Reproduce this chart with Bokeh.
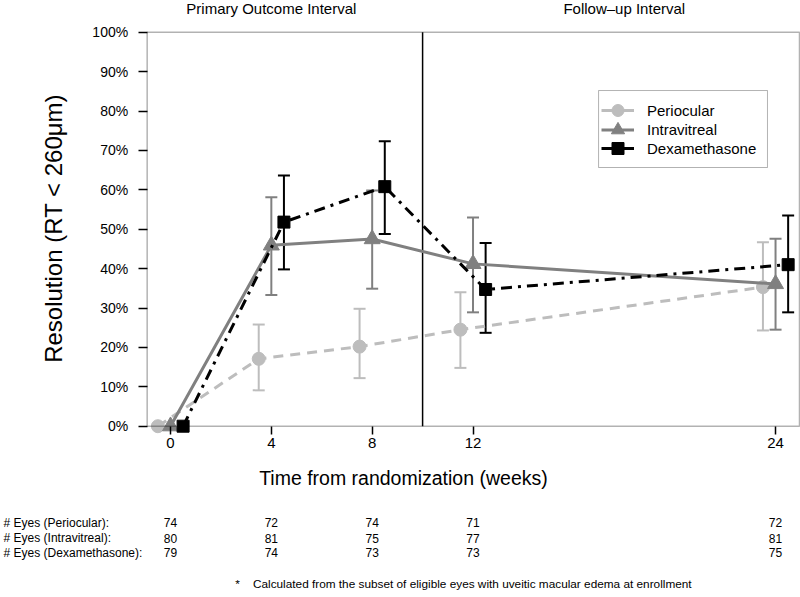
import math
from bokeh.plotting import figure
from bokeh.models import (ColumnDataSource, Whisker, TeeHead, Legend,
                          LegendItem, FixedTicker, Range1d, BoxAnnotation)
from bokeh.transform import dodge
from bokeh.core.properties import value
from bokeh.embed import file_html
from bokeh.resources import INLINE

# ---------------- data ----------------
weeks = [0, 4, 8, 12, 24]
err_weeks = [4, 8, 12, 24]

series_names = ["Periocular", "Intravitreal", "Dexamethasone"]

peri_val = [0.0, 17.1, 20.2, 24.5, 35.3]
peri_low = [9.1, 12.2, 14.8, 24.3]
peri_up = [25.8, 29.8, 34.0, 46.7]

intra_val = [0.0, 45.9, 47.5, 41.2, 36.1]
intra_low = [33.3, 34.9, 28.9, 24.5]
intra_up = [58.1, 59.8, 53.0, 47.6]

dex_val = [0.0, 51.8, 60.8, 34.7, 41.0]
dex_low = [39.8, 48.8, 23.7, 28.9]
dex_up = [63.6, 72.3, 46.5, 53.5]

yticks = [0, 10, 20, 30, 40, 50, 60, 70, 80, 90, 100]
ytick_labels = ["0%", "10%", "20%", "30%", "40%", "50%", "60%", "70%", "80%", "90%", "100%"]

eyes_labels = ["# Eyes (Periocular):", "# Eyes (Intravitreal):", "# Eyes (Dexamethasone):"]
eyes_peri = [74, 72, 74, 71, 72]
eyes_intra = [80, 81, 75, 77, 81]
eyes_dex = [79, 74, 73, 73, 75]

interval_labels = ["Primary Outcome Interval", "Follow\u2013up Interval"]
interval_centers = [4, 18]
interval_split = 10

y_label = "Resolution (RT < 260\u03bcm)"
x_label = "Time from randomization (weeks)"
footnote = "*\u00a0\u00a0\u00a0\u00a0Calculated from the subset of eligible eyes with uveitic macular edema at enrollment"

# ---------------- layout / styles ----------------
FONT = "Liberation Sans"
colors = ["#bdbdbd", "#808080", "#000000"]
dashes = ["10 7", "solid", "11 6 3 6"]
markers = ["circle", "triangle", "square"]
msizes = [13, 16, 12]
offsets = [-0.5, 0.0, 0.5]

# plotting box (data units)
box_left, box_right, box_bottom, box_top = -0.925, 24.95, 0, 100

p = figure(width=800, height=597, output_backend="svg", toolbar_location=None,
           x_range=Range1d(-6.743, 24.99), y_range=Range1d(-43.48, 108.05),
           min_border=0, min_border_left=0, min_border_right=0,
           min_border_top=0, min_border_bottom=0)
p.background_fill_color = "white"
p.border_fill_color = "white"
p.outline_line_color = None
p.xgrid.visible = False
p.ygrid.visible = False

for ax in (p.xaxis[0], p.yaxis[0]):
    ax.axis_line_color = None
    ax.major_tick_line_color = "black"
    ax.major_tick_line_width = 1.5
    ax.major_tick_in = 0
    ax.minor_tick_line_color = None
    ax.major_label_text_color = "black"

p.xaxis.fixed_location = box_bottom
p.xaxis.ticker = FixedTicker(ticks=weeks)
p.xaxis.major_tick_out = 8
p.xaxis.major_label_standoff = 4
p.xaxis.major_label_text_font = FONT
p.xaxis.major_label_text_font_size = "15px"

p.yaxis.fixed_location = box_left
p.yaxis.ticker = FixedTicker(ticks=yticks)
p.yaxis.major_label_overrides = {v: l for v, l in zip(yticks, ytick_labels)}
p.yaxis.major_tick_out = 9
p.yaxis.major_label_standoff = 10
p.yaxis.major_label_text_font = FONT
p.yaxis.major_label_text_font_size = "14px"

# plotting box and interval divider
p.add_layout(BoxAnnotation(left=box_left, right=box_right, bottom=box_bottom, top=box_top,
                           fill_alpha=0, line_color="black", line_width=1.5))
p.segment(x0=[interval_split], y0=[box_bottom], x1=[interval_split], y1=[box_top],
          line_color="black", line_width=1.5)

vals = [peri_val, intra_val, dex_val]
lows = [peri_low, intra_low, dex_low]
ups = [peri_up, intra_up, dex_up]

legend_renderers = []
for i in range(3):
    c = colors[i]
    src = ColumnDataSource(dict(week=weeks, val=vals[i]))
    esrc = ColumnDataSource(dict(week=err_weeks, lower=lows[i], upper=ups[i]))
    xs = dodge("week", offsets[i], range=p.x_range)
    w = Whisker(source=esrc, base=xs, lower="lower", upper="upper",
                line_color=c, line_width=2,
                upper_head=TeeHead(size=12, line_color=c, line_width=2),
                lower_head=TeeHead(size=12, line_color=c, line_width=2))
    p.add_layout(w)
    p.line(x=xs, y="val", source=src, line_color=c, line_width=3,
           line_dash=dashes[i])
    p.scatter(x=xs, y="val", source=src, marker=markers[i], size=msizes[i],
              fill_color=c, line_color=c)
    # legend-only renderers (solid line + marker)
    dl = p.line(x=[0], y=[math.nan], line_color=c, line_width=3)
    ds = p.scatter(x=[0], y=[math.nan], marker=markers[i], fill_color=c, line_color=c)
    legend_renderers.append([dl, ds])

# legend frame (white box with black border) and one legend row per series
p.add_layout(BoxAnnotation(left=16.98, right=23.68, bottom=65.66, top=85.2,
                           fill_color="white", fill_alpha=1.0,
                           line_color="black", line_width=1))
legend_heights = [30, 37, 30]
legend_bottoms = [472, 449.5, 434]
for i in range(3):
    h = legend_heights[i]
    lg = Legend(items=[LegendItem(label=series_names[i], renderers=legend_renderers[i])],
                location=(601, legend_bottoms[i]), orientation="vertical",
                glyph_width=33, glyph_height=h, label_height=h, spacing=0,
                padding=0, margin=0, label_standoff=13,
                label_text_font=FONT, label_text_font_size="15px",
                label_text_color="black",
                border_line_color=None, background_fill_alpha=0.0)
    p.add_layout(lg)

# y axis title (rotated)
p.text(x=[-4.64], y=[50.2], text=[y_label], angle=math.pi / 2,
       text_align="center", text_baseline="middle",
       text_font=value(FONT), text_font_size="24px", text_color="black")

# top interval labels
p.text(x=interval_centers, y=[106.1] * len(interval_centers), text=interval_labels,
       text_align="center", text_baseline="middle", text_font=value(FONT),
       text_font_size="15px", text_color="black")

# x axis title
p.text(x=[9.24], y=[-13.27], text=[x_label], text_align="center",
       text_baseline="middle", text_font=value(FONT), text_font_size="19.5px",
       text_color="black")

# eyes table
row_y = [-24.52, -28.38, -32.18]
counts = [eyes_peri, eyes_intra, eyes_dex]
for r in range(3):
    p.text(x=[-6.62], y=[row_y[r]], text=[eyes_labels[r]], text_align="left",
           text_baseline="middle", text_font=value(FONT),
           text_font_size="12px", text_color="black")
    p.text(x=weeks, y=[row_y[r]] * len(weeks), text=[str(n) for n in counts[r]],
           text_align="center", text_baseline="middle", text_font=value(FONT),
           text_font_size="12px", text_color="black")

p.text(x=[11.62], y=[-40.18], text=[footnote], text_align="center",
       text_baseline="middle", text_font=value(FONT),
       text_font_size="11.8px", text_color="black")

open("out.html", "w").write(file_html(p, INLINE))
